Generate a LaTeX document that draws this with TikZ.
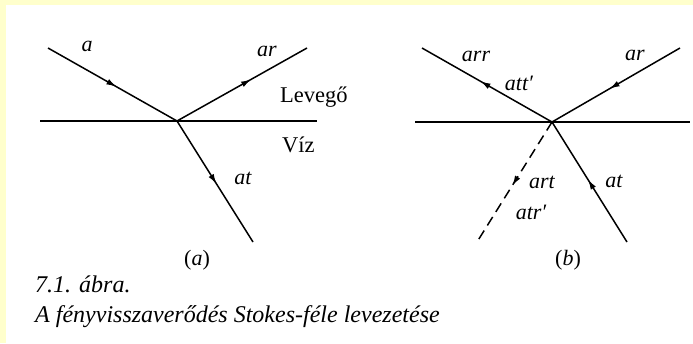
\documentclass[tikz,border=0pt]{standalone}
\usepackage{fontspec}
\setmainfont{Liberation Serif}
\usetikzlibrary{decorations.markings,arrows.meta}
\definecolor{bgyellow}{HTML}{FFFFCC}
\tikzset{
  ray/.style={line width=1.5pt},
  iface/.style={line width=2.5pt},
  midarrow/.style={postaction={decorate},decoration={markings,
     mark=at position #1 with {\arrow{Latex[length=10pt,width=6pt]}}}},
  lbl/.style={font=\fontsize{22}{24}\selectfont\itshape, inner sep=0pt},
  medium/.style={font=\fontsize{22.5}{24}\selectfont, inner sep=0pt, anchor=base west},
  captxt/.style={font=\fontsize{24}{28}\selectfont\itshape, inner sep=0pt, anchor=base west},
}
\begin{document}
\begin{tikzpicture}[x=1pt,y=-1pt]
\useasboundingbox (0,0) rectangle (693,343);
\fill[bgyellow] (0,0) rectangle (693,343);
\fill[white] (6,5) rectangle (693,343);
% panel (a)
\coordinate (A1) at (48,48);
\coordinate (O1) at (177,121);
\coordinate (R1) at (307,48);
\coordinate (T1) at (253,242);
\coordinate (L1) at (40,121);
\coordinate (E1) at (317,121);
\draw[iface] (L1) -- (E1);
\draw[ray,midarrow=0.53] (A1) -- (O1);
\draw[ray,midarrow=0.57] (O1) -- (R1);
\draw[ray,midarrow=0.52] (O1) -- (T1);
\node[lbl] (la) at (87,46) {a};
\node[lbl] (lar) at (267,51) {ar};
\node[lbl] (lat) at (243,178) {at};
\node[medium] (lev) at (280,102) {Levegő};
\node[medium] (viz) at (282,152) {Víz};
\node[lbl,font=\fontsize{22}{24}\selectfont] (pa) at (197,260) {(\textit{a})};
% panel (b)
\coordinate (O2) at (552,122);
\coordinate (A2) at (422,48);
\coordinate (R2) at (680,48);
\coordinate (D2) at (477,242);
\coordinate (T2) at (627,242);
\coordinate (L2) at (415,122);
\coordinate (E2) at (690,122);
\draw[iface] (L2) -- (E2);
\draw[ray,midarrow=0.55] (O2) -- (A2);
\draw[ray,midarrow=0.55] (R2) -- (O2);
\draw[ray,dashed,dash pattern=on 10pt off 6pt,midarrow=0.53] (O2) -- (D2);
\draw[ray,midarrow=0.52] (T2) -- (O2);
\node[lbl] (larr) at (476,56) {arr};
\node[lbl] (latt) at (519,83) {att′};
\node[lbl] (lar2) at (635,55) {ar};
\node[lbl] (lart) at (542,182) {art};
\node[lbl] (latr) at (531,212) {atr′};
\node[lbl] (lat2) at (614,181) {at};
\node[lbl,font=\fontsize{22}{24}\selectfont] (pb) at (568,260) {(\textit{b})};
% caption
\node[captxt] (c1) at (35,292) {7.1. ábra.};
\node[captxt] (c2) at (35,322) {A fényvisszaverődés Stokes-féle levezetése};
\end{tikzpicture}
\end{document}
